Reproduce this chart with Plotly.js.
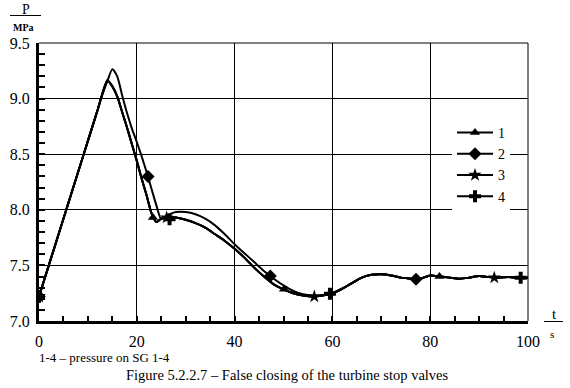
<!DOCTYPE html>
<html>
<head>
<meta charset="utf-8">
<script src="https://cdn.plot.ly/plotly-3.0.1.min.js"></script>
<style>
html,body{margin:0;padding:0;background:#fff;}
#chart{width:570px;height:388px;}
</style>
</head>
<body>
<div id="chart"></div>
<script>
// time grid, s
const t = [0, 2, 4, 6, 8, 10, 12, 13, 14, 15, 16, 17, 18, 19, 20, 21, 22, 23, 24, 25, 26, 27, 28,
  30, 32, 34, 36, 38, 40, 42, 44, 46, 48, 50, 52, 54, 56, 58, 60, 62, 64, 66, 68, 70, 72, 74, 76,
  77, 78, 80, 82, 84, 86, 88, 90, 92, 94, 96, 98, 100];

// pressure on SG 1-4, MPa
const p1 = [7.22, 7.50, 7.78, 8.06, 8.34, 8.62, 8.90, 9.05, 9.165, 9.11, 9.02, 8.88, 8.74, 8.59, 8.44, 8.28, 8.13, 7.97, 7.89, 7.92, 7.935, 7.935, 7.93,
  7.91, 7.88, 7.84, 7.78, 7.72, 7.65, 7.57, 7.48, 7.40, 7.33, 7.285, 7.25, 7.23, 7.22, 7.23, 7.25, 7.29, 7.34, 7.39, 7.415, 7.42, 7.41, 7.39, 7.38,
  7.375, 7.38, 7.41, 7.40, 7.39, 7.38, 7.39, 7.405, 7.395, 7.39, 7.395, 7.39, 7.39];
const p2 = [7.22, 7.50, 7.78, 8.06, 8.34, 8.62, 8.90, 9.04, 9.16, 9.265, 9.20, 9.03, 8.87, 8.73, 8.61, 8.48, 8.34, 8.19, 8.04, 7.915, 7.935, 7.965, 7.98,
  7.98, 7.96, 7.92, 7.86, 7.78, 7.69, 7.61, 7.53, 7.45, 7.38, 7.32, 7.27, 7.24, 7.23, 7.235, 7.25, 7.29, 7.34, 7.39, 7.415, 7.42, 7.41, 7.39, 7.38,
  7.375, 7.38, 7.41, 7.40, 7.39, 7.38, 7.39, 7.405, 7.395, 7.39, 7.395, 7.39, 7.39];
const p3 = [7.22, 7.50, 7.78, 8.06, 8.34, 8.62, 8.90, 9.05, 9.165, 9.11, 9.02, 8.88, 8.74, 8.59, 8.44, 8.28, 8.13, 7.97, 7.89, 7.92, 7.935, 7.935, 7.93,
  7.91, 7.88, 7.84, 7.78, 7.72, 7.65, 7.57, 7.48, 7.40, 7.33, 7.285, 7.25, 7.23, 7.22, 7.23, 7.25, 7.29, 7.34, 7.39, 7.415, 7.42, 7.41, 7.39, 7.38,
  7.375, 7.38, 7.41, 7.40, 7.39, 7.38, 7.39, 7.405, 7.395, 7.39, 7.395, 7.39, 7.39];
const p4 = [7.22, 7.50, 7.78, 8.06, 8.34, 8.62, 8.90, 9.05, 9.165, 9.11, 9.02, 8.88, 8.74, 8.59, 8.44, 8.28, 8.13, 7.97, 7.89, 7.92, 7.935, 7.935, 7.93,
  7.91, 7.88, 7.84, 7.78, 7.72, 7.65, 7.57, 7.48, 7.40, 7.33, 7.285, 7.25, 7.23, 7.22, 7.23, 7.25, 7.29, 7.34, 7.39, 7.415, 7.42, 7.41, 7.39, 7.38,
  7.375, 7.38, 7.41, 7.40, 7.39, 7.38, 7.39, 7.405, 7.395, 7.39, 7.395, 7.39, 7.39];

// marker positions of each series
const m1t = [0, 23.3, 50.1, 81.9], m1p = [7.22, 7.93, 7.285, 7.40];
const m2t = [0, 22.3, 47.3, 77.1], m2p = [7.22, 8.30, 7.405, 7.375];
const m3t = [0, 26.1, 56.3, 93.1], m3p = [7.22, 7.93, 7.22, 7.39];
const m4t = [0, 26.7, 59.5, 98.5], m4p = [7.22, 7.915, 7.245, 7.39];

const seriesNames = ['1', '2', '3', '4'];
const symbols = ['triangle-up', 'diamond', 'star', 'cross'];
const markerSizes = [9, 10, 10, 10];

const xTickVals = [0, 20, 40, 60, 80, 100];
const yTickVals = [7.0, 7.5, 8.0, 8.5, 9.0, 9.5];

const FONT = 'Liberation Serif';
const curves = [p1, p2, p3, p4];
const marks = [[m1t, m1p], [m2t, m2p], [m3t, m3p], [m4t, m4p]];

const traces = [];
curves.forEach((p, i) => {
  const colors = t.map((v, k) => k === 0 ? '#000' : 'rgba(0,0,0,0)');
  traces.push({
    x: t, y: p, name: seriesNames[i], type: 'scatter', mode: 'lines+markers',
    line: {color: '#000', width: 2, shape: 'spline', smoothing: 0.6},
    marker: {symbol: symbols[i], size: markerSizes[i], color: colors, line: {width: 0}},
    hoverinfo: 'skip'
  });
});
marks.forEach((m, i) => {
  traces.push({
    x: m[0], y: m[1], type: 'scatter', mode: 'markers', showlegend: false,
    marker: {symbol: symbols[i], size: markerSizes[i], color: '#000', line: {width: 0}},
    hoverinfo: 'skip'
  });
});

// plot-area pixel box helpers (layout only)
const L = 39, R = 528, T = 43, B = 321;
const px = x => (x - L) / (R - L);
const py = y => (B - y) / (B - T);

const layout = {
  width: 570, height: 388,
  margin: {l: L, r: 570 - R, t: T, b: 388 - B, pad: 0},
  paper_bgcolor: '#fff', plot_bgcolor: '#fff',
  font: {family: FONT, color: '#000', size: 16},
  showlegend: true,
  legend: {
    x: px(452), y: py(117), xanchor: 'left', yanchor: 'top',
    bgcolor: '#fff', borderwidth: 0,
    font: {family: FONT, size: 14, color: '#000'},
    itemwidth: 36
  },
  xaxis: {
    range: [0, 100], tickvals: xTickVals, ticktext: xTickVals.map(String),
    showgrid: true, gridcolor: '#000', gridwidth: 1,
    showline: true, linecolor: '#000', linewidth: 3,
    ticks: 'inside', ticklen: 5, tickwidth: 2, tickcolor: '#000',
    minor: {dtick: 5, tick0: 0, ticks: 'inside', ticklen: 5, tickwidth: 2, tickcolor: '#000', showgrid: false},
    zeroline: false, tickfont: {family: FONT, size: 16, color: '#000'},
    ticklabelstandoff: 4, fixedrange: true
  },
  yaxis: {
    range: [7.0, 9.5], tickvals: yTickVals, ticktext: yTickVals.map(v => v.toFixed(1)),
    showgrid: true, gridcolor: '#000', gridwidth: 1,
    showline: true, linecolor: '#000', linewidth: 3,
    ticks: 'inside', ticklen: 6, tickwidth: 2, tickcolor: '#000',
    minor: {dtick: 0.1, tick0: 7.0, ticks: 'inside', ticklen: 6, tickwidth: 2, tickcolor: '#000', showgrid: false},
    zeroline: false, tickfont: {family: FONT, size: 16, color: '#000'},
    ticklabelstandoff: 3, fixedrange: true
  },
  shapes: [
    {type: 'line', xref: 'paper', yref: 'paper', x0: 0, x1: 1, y0: 1, y1: 1, line: {color: '#000', width: 1}},
    {type: 'line', xref: 'paper', yref: 'paper', x0: 1, x1: 1, y0: 0, y1: 1, line: {color: '#000', width: 1}},
    {type: 'line', xref: 'paper', yref: 'paper', x0: px(10), x1: px(41), y0: py(15.5), y1: py(15.5), line: {color: '#000', width: 1}},
    {type: 'line', xref: 'paper', yref: 'paper', x0: px(544), x1: px(563), y0: py(321.5), y1: py(321.5), line: {color: '#000', width: 1}}
  ],
  annotations: [
    {text: 'P', xref: 'paper', yref: 'paper', x: px(26), y: py(9), xanchor: 'center', yanchor: 'middle', showarrow: false, font: {family: FONT, size: 14, color: '#000'}},
    {text: '<b>MPa</b>', xref: 'paper', yref: 'paper', x: px(23.5), y: py(28), xanchor: 'center', yanchor: 'middle', showarrow: false, font: {family: FONT, size: 10, color: '#000'}},
    {text: 't', xref: 'paper', yref: 'paper', x: px(554), y: py(314), xanchor: 'center', yanchor: 'middle', showarrow: false, font: {family: FONT, size: 15, color: '#000'}},
    {text: 's', xref: 'paper', yref: 'paper', x: px(552), y: py(334), xanchor: 'center', yanchor: 'middle', showarrow: false, font: {family: FONT, size: 11, color: '#000'}},
    {text: '1-4 – pressure on SG 1-4', xref: 'paper', yref: 'paper', x: px(37), y: py(357), xanchor: 'left', yanchor: 'middle', showarrow: false, font: {family: FONT, size: 13, color: '#000'}},
    {text: 'Figure 5.2.2.7 – False closing of the turbine stop valves', xref: 'paper', yref: 'paper', x: px(287), y: py(375), xanchor: 'center', yanchor: 'middle', showarrow: false, font: {family: FONT, size: 14.5, color: '#000'}}
  ]
};

Plotly.newPlot('chart', traces, layout, {displayModeBar: false, staticPlot: true});
</script>
</body>
</html>
